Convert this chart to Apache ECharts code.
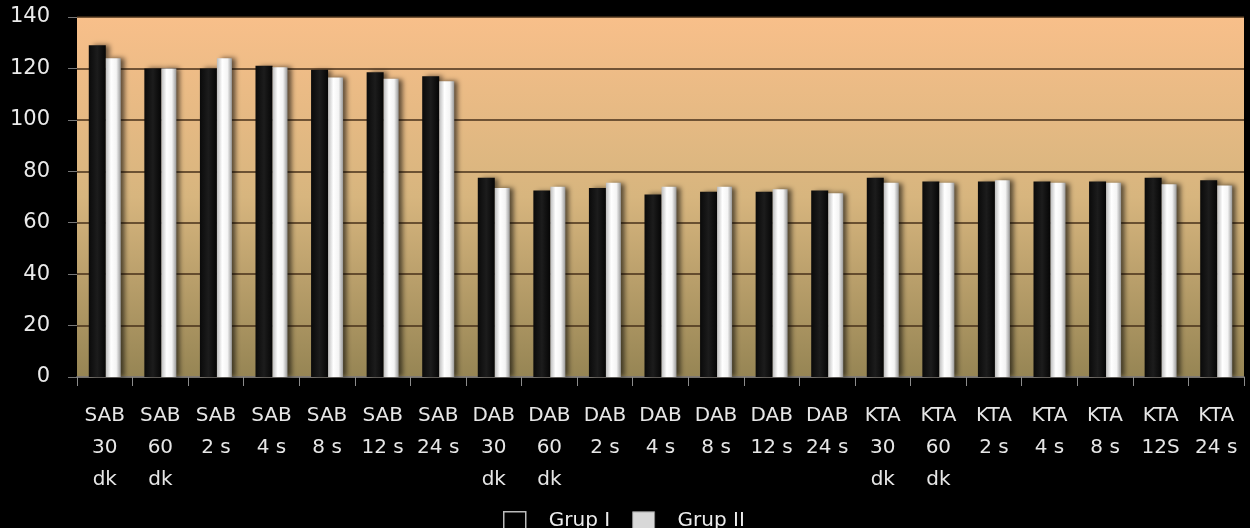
<!DOCTYPE html>
<html>
<head>
<meta charset="utf-8">
<script src="https://cdn.jsdelivr.net/npm/echarts@6/dist/echarts.min.js"></script>
<style>
  html, body { margin: 0; padding: 0; background: #000; }
  #main { width: 1250px; height: 528px; }
</style>
</head>
<body>
<div id="main"></div>
<script>
// kategoriler (x ekseni)
var categories = [
  'SAB\n30\ndk', 'SAB\n60\ndk', 'SAB\n2 s', 'SAB\n4 s', 'SAB\n8 s', 'SAB\n12 s', 'SAB\n24 s',
  'DAB\n30\ndk', 'DAB\n60\ndk', 'DAB\n2 s', 'DAB\n4 s', 'DAB\n8 s', 'DAB\n12 s', 'DAB\n24 s',
  'KTA\n30\ndk', 'KTA\n60\ndk', 'KTA\n2 s', 'KTA\n4 s', 'KTA\n8 s', 'KTA\n12S', 'KTA\n24 s'
];
var grupI  = [129, 120, 120, 121, 119.5, 118.5, 117, 77.5, 72.5, 73.5, 71, 72, 72, 72.5, 77.5, 76, 76, 76, 76, 77.5, 76.5];
var grupII = [124, 120, 124, 120.5, 116.5, 116, 115, 73.5, 74, 75.5, 74, 74, 73, 71.5, 75.5, 75.5, 76.5, 75.5, 75.5, 75, 74.5];
var seriesNames = ['Grup I', 'Grup II'];

var textFont = '"DejaVu Sans", sans-serif';

var myChart = echarts.init(document.getElementById('main'));
myChart.setOption({
  backgroundColor: '#000',
  animation: false,
  legend: {
    data: [
      { name: seriesNames[0], itemStyle: { color: '#000', borderColor: '#bbb', borderWidth: 1.5 } },
      { name: seriesNames[1], itemStyle: { color: '#d8d8d8', borderColor: '#888', borderWidth: 1 } }
    ],
    top: 506,
    left: 498,
    itemWidth: 22,
    itemHeight: 19,
    itemGap: 22,
    icon: 'rect',
    textStyle: { color: '#ececec', fontSize: 20, fontFamily: textFont, padding: [0, 0, 0, 18] }
  },
  grid: {
    left: 77,
    right: 6,
    top: 17,
    bottom: 151,
    show: true,
    borderWidth: 0,
    backgroundColor: new echarts.graphic.LinearGradient(0, 0, 0, 1, [
      { offset: 0, color: '#f8bf8a' },
      { offset: 0.5, color: '#d7b57e' },
      { offset: 1, color: '#968554' }
    ])
  },
  xAxis: {
    type: 'category',
    data: categories,
    axisLine: { lineStyle: { color: '#8c8c8c', width: 1.5 } },
    axisTick: { show: true, length: 9, lineStyle: { color: '#8c8c8c' } },
    axisLabel: {
      color: '#e6e6e6',
      fontSize: 20,
      fontFamily: textFont,
      lineHeight: 32,
      margin: 23,
      interval: 0
    }
  },
  yAxis: {
    type: 'value',
    min: 0,
    max: 140,
    interval: 20,
    axisLine: { show: false },
    axisTick: { show: true, length: 9, lineStyle: { color: '#777' } },
    splitLine: { lineStyle: { color: '#47301a', width: 1.6 } },
    axisLabel: {
      color: '#eaeaea',
      fontSize: 21,
      fontFamily: textFont,
      margin: 27
    }
  },
  series: [
    {
      name: seriesNames[0],
      type: 'bar',
      data: grupI,
      barWidth: 17,
      barGap: '0%',
      itemStyle: {
        color: new echarts.graphic.LinearGradient(0, 0, 1, 0, [
          { offset: 0, color: '#0a0a0a' },
          { offset: 0.5, color: '#1c1c1c' },
          { offset: 1, color: '#050505' }
        ]),
        shadowColor: 'rgba(0,0,0,0.55)',
        shadowBlur: 5,
        shadowOffsetX: 4
      }
    },
    {
      name: seriesNames[1],
      type: 'bar',
      data: grupII,
      barWidth: 15,
      itemStyle: {
        color: new echarts.graphic.LinearGradient(0, 0, 1, 0, [
          { offset: 0, color: '#bdbdbd' },
          { offset: 0.35, color: '#ffffff' },
          { offset: 0.7, color: '#f4f4f4' },
          { offset: 1, color: '#9a9a9a' }
        ]),
        shadowColor: 'rgba(0,0,0,0.6)',
        shadowBlur: 5,
        shadowOffsetX: 4
      }
    }
  ]
});
</script>
</body>
</html>
